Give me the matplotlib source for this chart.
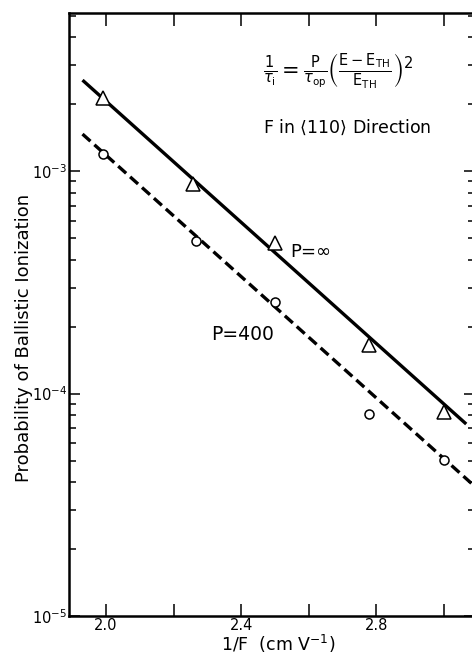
import matplotlib
matplotlib.use("Agg")
import matplotlib.pyplot as plt
from matplotlib.ticker import LogLocator, NullFormatter, FixedLocator

# Data
x_tri = [1.99, 2.258, 2.50, 2.78, 3.00]
y_tri = [2.13e-3, 8.8e-4, 4.74e-4, 1.66e-4, 8.3e-5]
x_circ = [1.99, 2.267, 2.50, 2.78, 3.00]
y_circ = [1.19e-3, 4.84e-4, 2.57e-4, 8.1e-5, 5.05e-5]
# straight fit lines (end points)
x_inf_line = [1.93, 3.067]
y_inf_line = [2.57e-3, 7.3e-5]
x_400_line = [1.93, 3.093]
y_400_line = [1.47e-3, 3.82e-5]

xticks_major = [2.0, 2.4, 2.8]
xticks_minor = [2.2, 2.6, 3.0]
xtick_labels = ["2.0", "2.4", "2.8"]

plt.rcParams['mathtext.fontset'] = 'dejavusans'
fig = plt.figure(figsize=(4.72, 6.54), dpi=100)
ax = fig.add_axes([69/472, 1-616/654, (475-69)/472, (616-13)/654])

ax.plot(x_inf_line, y_inf_line, color='black', lw=2.4, solid_capstyle='butt')
ax.plot(x_400_line, y_400_line, color='black', lw=2.4, ls=(0, (3.2, 1.6)))
ax.plot(x_tri, y_tri, ls='none', marker='^', ms=10, mfc='white', mec='black', mew=1.1)
ax.plot(x_circ, y_circ, ls='none', marker='o', ms=6.5, mfc='white', mec='black', mew=1.1)

ax.set_yscale('log')
ax.set_xlim(1.89, 3.093)
ax.set_ylim(1e-5, 5.15e-3)

ax.xaxis.set_major_locator(FixedLocator(xticks_major))
ax.xaxis.set_minor_locator(FixedLocator(xticks_minor))
ax.set_xticklabels(xtick_labels)
ax.yaxis.set_major_locator(LogLocator(base=10, numticks=10))
ax.yaxis.set_minor_locator(LogLocator(base=10, subs=range(2, 10), numticks=20))
ax.yaxis.set_minor_formatter(NullFormatter())

ax.tick_params(axis='both', which='both', direction='in', top=True, right=True,
               labelsize=10.5, width=1.1)
ax.tick_params(axis='x', which='both', length=9, pad=1.5)
ax.tick_params(axis='y', which='major', length=8, pad=1.5)
ax.tick_params(axis='y', which='minor', length=5)

for s in ax.spines.values():
    s.set_linewidth(1.8)

ax.set_xlabel(r"1/F  (cm V$^{-1}$)", fontsize=12.5, va='center')
ax.xaxis.set_label_coords(0.515, -0.046)
ax.set_ylabel("Probability of Ballistic Ionization", fontsize=13, va='center')
ax.yaxis.set_label_coords(-0.112, 0.461)

ax.text(0.478, 0.905,
        r"$\frac{1}{\tau_\mathrm{i}}=\frac{\mathrm{P}}{\tau_\mathrm{op}}\left(\frac{\mathrm{E}-\mathrm{E}_\mathrm{TH}}{\mathrm{E}_\mathrm{TH}}\right)^2$",
        transform=ax.transAxes, fontsize=15, ha='left', va='center')
ax.text(0.478, 0.81, r"F in $\langle$110$\rangle$ Direction", transform=ax.transAxes,
        fontsize=12.5, ha='left', va='center')
ax.text(2.545, 4.35e-4, r"P=$\infty$", fontsize=13, ha='left', va='center')
ax.text(2.31, 1.85e-4, "P=400", fontsize=13.5, ha='left', va='center')

fig.savefig("out.png", dpi=100)
